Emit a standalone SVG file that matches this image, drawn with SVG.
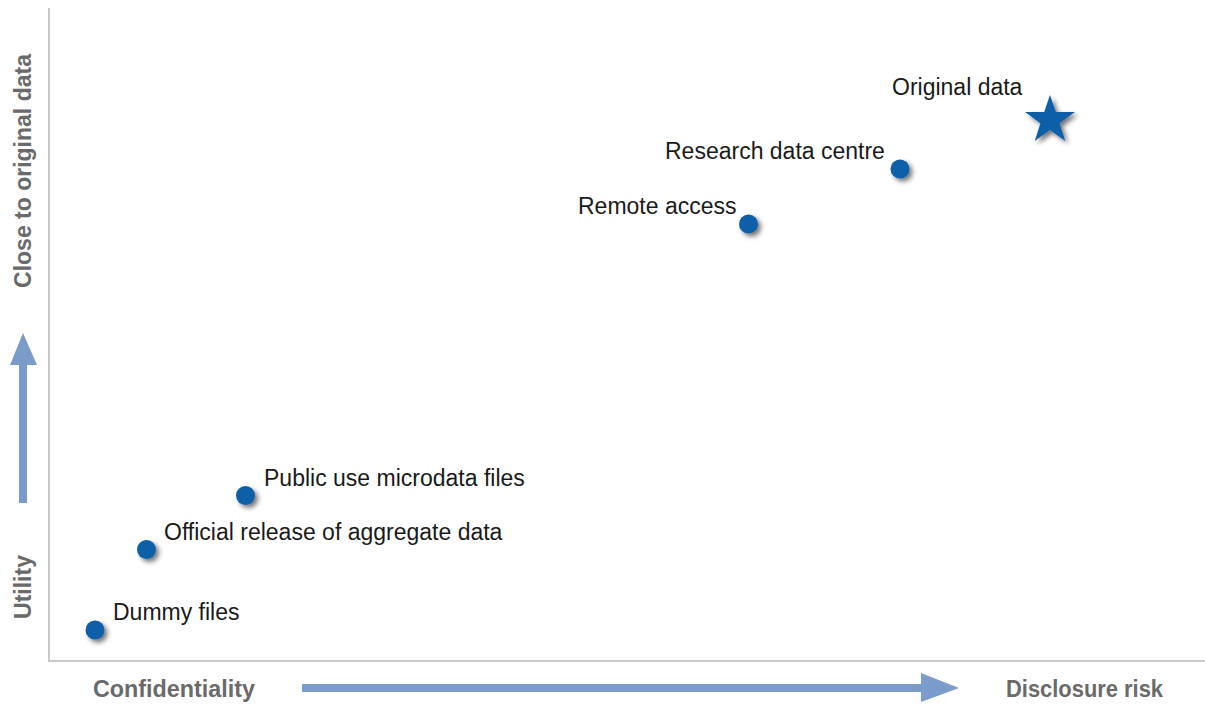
<svg xmlns="http://www.w3.org/2000/svg" width="1205" height="704" viewBox="0 0 1205 704">
  <style>
    .axis { stroke: #c8c8c8; stroke-width: 2; fill: none; }
    .axis-label { font-family: "Liberation Sans", Arial, sans-serif; font-weight: bold; font-size: 23px; fill: #6a6a6a; }
    .label { font-family: "Liberation Sans", Arial, sans-serif; font-size: 23px; fill: #1a1a1a; }
    .mark { fill: #0b5ea8; filter: url(#shadow); }
    .dir { fill: #7b9bcb; }
  </style>
  <defs>
    <filter id="shadow" x="-60%" y="-60%" width="220%" height="220%">
      <feGaussianBlur in="SourceAlpha" stdDeviation="2.5" result="blur"/>
      <feOffset in="blur" dx="3" dy="3" result="off"/>
      <feComponentTransfer in="off" result="soft">
        <feFuncA type="linear" slope="0.55"/>
      </feComponentTransfer>
      <feMerge>
        <feMergeNode in="soft"/>
        <feMergeNode in="SourceGraphic"/>
      </feMerge>
    </filter>
  </defs>

  <rect width="1205" height="704" fill="#ffffff"/>

  <!-- axes -->
  <g id="axes">
    <polyline class="axis" points="49,8 49,661 1205,661"/>
  </g>

  <!-- direction arrows -->
  <g id="connectors">
    <path class="dir" d="M19,503 L19,365 L10,365 L23,333 L37,365 L27,365 L27,503 Z"/>
    <path class="dir" d="M302,684 L921,684 L921,673 L959,688 L921,702 L921,692 L302,692 Z"/>
  </g>

  <!-- axis captions -->
  <g id="axis-labels">
    <text class="axis-label" x="93" y="697" textLength="162" lengthAdjust="spacingAndGlyphs">Confidentiality</text>
    <text class="axis-label" x="1006" y="697" textLength="157" lengthAdjust="spacingAndGlyphs">Disclosure risk</text>
    <text class="axis-label" text-anchor="middle" transform="translate(31,171) rotate(-90)">Close to original data</text>
    <text class="axis-label" text-anchor="middle" transform="translate(31,587) rotate(-90)">Utility</text>
  </g>

  <!-- data access options -->
  <g id="dummy-files">
    <circle class="mark" cx="95" cy="630" r="9.5"/>
    <text class="label" x="113" y="620">Dummy files</text>
  </g>
  <g id="official-release">
    <circle class="mark" cx="146.5" cy="549.5" r="9.5"/>
    <text class="label" x="164" y="540">Official release of aggregate data</text>
  </g>
  <g id="public-use-files">
    <circle class="mark" cx="245.5" cy="495.5" r="9.5"/>
    <text class="label" x="264" y="486">Public use microdata files</text>
  </g>
  <g id="remote-access">
    <circle class="mark" cx="748.5" cy="224" r="9.5"/>
    <text class="label" x="578" y="214">Remote access</text>
  </g>
  <g id="research-data-centre">
    <circle class="mark" cx="900" cy="169" r="9.5"/>
    <text class="label" x="665" y="159">Research data centre</text>
  </g>
  <g id="original-data">
    <polygon class="mark" points="1050,95 1055.8,112 1075,112 1059.5,123.2 1065.3,141 1050,130 1034.7,141 1040.5,123.2 1025,112 1044.2,112"/>
    <text class="label" x="892" y="95">Original data</text>
  </g>
</svg>
